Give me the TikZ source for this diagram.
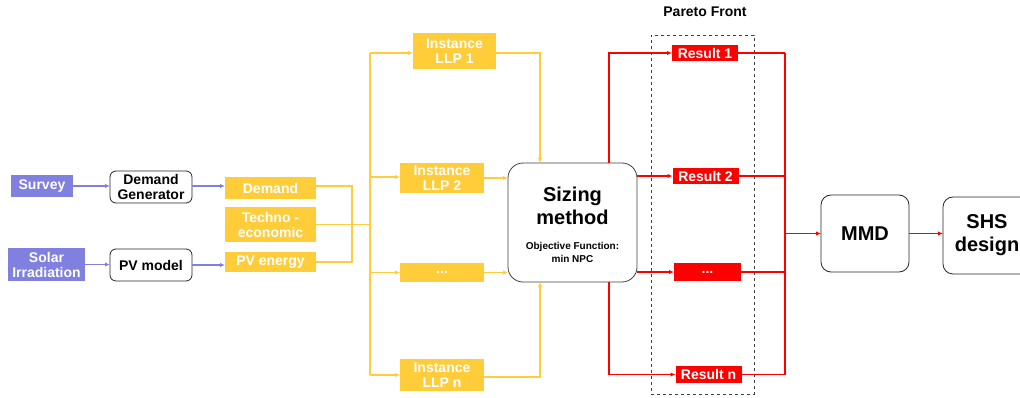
\documentclass[tikz,border=0pt]{standalone}
\usepackage{fontspec}
\setmainfont{Liberation Sans}
\usetikzlibrary{arrows.meta}
\definecolor{lav}{RGB}{128,128,224}
\definecolor{gold}{RGB}{255,204,58}
\definecolor{rd}{RGB}{255,0,0}
\begin{document}
\begin{tikzpicture}[x=1pt,y=-1pt,
  every node/.style={font=\bfseries\fontsize{14}{15}\selectfont, align=center, inner sep=0pt, outer sep=0pt},
  goldbox/.style={fill=gold, text=white},
  redbox/.style={fill=rd, text=white},
  plainbox/.style={draw=black!85, line width=0.8pt, rounded corners=6pt, fill=white},
  bigbox/.style={draw=black!75, line width=0.8pt, rounded corners=15pt, fill=white},
  tip/.style={-{Latex[length=5pt,width=4.5pt]}},
  pline/.style={draw=lav, line width=1.2pt},
  yline/.style={draw=gold, line width=1.4pt},
  rline/.style={draw=rd, line width=1.5pt}]
\clip (0,0) rectangle (1020,398);
\useasboundingbox (0,0) rectangle (1020,398);

% Pareto front frame
\node[draw=black!75, dashed, line width=0.7pt, minimum width=103pt, minimum height=359pt] (front) at (702.5,214.5) {};
\node (fronttitle) at (705,12) {Pareto Front};

% inputs
\node[fill=lav, text=white, minimum width=62pt, minimum height=22pt] (survey) at (42,186) {Survey};
\node[fill=lav, text=white, minimum width=77pt, minimum height=33pt] (solar) at (46.5,264.5) {Solar\\Irradiation};
\node[plainbox, minimum width=82pt, minimum height=32pt] (demgen) at (151,187) {Demand\\Generator};
\node[plainbox, minimum width=82pt, minimum height=32pt] (pvmodel) at (151,265) {PV model};

\node[goldbox, minimum width=91pt, minimum height=22pt] (demand) at (270.5,188) {Demand};
\node[goldbox, minimum width=91pt, minimum height=35pt] (techno) at (270.5,224.5) {Techno -\\economic};
\node[goldbox, minimum width=91pt, minimum height=20pt] (pvenergy) at (270.5,262) {PV energy};

% instances
\node[goldbox, minimum width=83pt, minimum height=36pt] (llp1) at (454.5,51) {Instance\\LLP 1};
\node[goldbox, minimum width=84pt, minimum height=30pt] (llp2) at (442,178) {Instance\\LLP 2};
\node[goldbox, minimum width=84pt, minimum height=19pt] (llpdots) at (442,272.5) {...};
\node[goldbox, minimum width=84pt, minimum height=32pt] (llpn) at (442,375) {Instance\\LLP n};

% optimiser
\node[bigbox, minimum width=129pt, minimum height=119pt] (sizing) at (572.5,222.5) {};
\node[font=\bfseries\fontsize{20}{23}\selectfont] (sizingtitle) at (572.5,206) {Sizing\\method};
\node[font=\bfseries\fontsize{10}{13}\selectfont] (objective) at (572.5,252) {Objective Function:\\min NPC};

% results
\node[redbox, minimum width=66pt, minimum height=16pt] (res1) at (705,53) {Result 1};
\node[redbox, minimum width=66pt, minimum height=16pt] (res2) at (705.5,176) {Result 2};
\node[redbox, minimum width=67pt, minimum height=18pt] (resdots) at (707.5,272) {...};
\node[redbox, minimum width=66pt, minimum height=17pt] (resn) at (708.5,374.5) {Result n};

\node[plainbox, rounded corners=10pt, minimum width=88pt, minimum height=77pt, font=\bfseries\fontsize{20}{23}\selectfont] (mmd) at (865,233.5) {MMD};
\node[plainbox, rounded corners=10pt, minimum width=88pt, minimum height=77pt, font=\bfseries\fontsize{20}{23}\selectfont] (shs) at (987,235.5) {SHS\\design};

% helper columns
\coordinate (ya) at (352,0);
\coordinate (trunk) at (370,0);
\coordinate (cin) at (540,0);
\coordinate (cout) at (609,0);
\coordinate (collect) at (785,0);
\coordinate (top) at (0,53);

% purple links
\draw[pline, tip] (survey.east) -- (survey.east -| demgen.west);
\draw[pline, tip] (demgen.east |- survey.east) -- (demand.west |- survey.east);
\draw[pline, tip] (solar.east) -- (solar.east -| pvmodel.west);
\draw[pline, tip] (pvmodel.east) -- (pvenergy.west |- pvmodel.east);

% gold links
\draw[yline] ([yshift=2pt]demand.east) -- ([yshift=2pt]demand.east -| ya) |- (pvenergy.east);
\draw[yline] (techno.east) -- (techno.east -| trunk);
\draw[yline] (trunk |- top) -- (trunk |- llpn.east);
\draw[yline, tip] (trunk |- top) -- (top -| llp1.west);
\draw[yline, tip] ([yshift=1pt]trunk |- llp2.east) -- ([yshift=1pt]llp2.west);
\draw[yline, tip] (trunk |- llpdots.east) -- (llpdots.west);
\draw[yline, tip] (trunk |- llpn.east) -- (llpn.west);
\draw[yline, tip] (top -| llp1.east) -| (sizing.north -| cin);
\draw[yline, tip] (llp2.east) -- (llp2.east -| sizing.west);
\draw[yline, tip] (llpdots.east) -- (llpdots.east -| sizing.west);
\draw[yline, tip] ([yshift=-2pt]llpn.east) -| (sizing.south -| cin);

% red links
\draw[rline, tip] (sizing.north -| cout) |- (res1.west);
\draw[rline, tip] (res2.west -| sizing.east) -- (res2.west);
\draw[rline, tip] (resdots.west -| sizing.east) -- (resdots.west);
\draw[rline, tip] (sizing.south -| cout) |- (resn.west);
\draw[rline] (res1.east) -- (res1.east -| collect);
\draw[rline] (res2.east) -- (res2.east -| collect);
\draw[rline] (resdots.east) -- (resdots.east -| collect);
\draw[rline] (resn.east) -- (resn.east -| collect);
\draw[rline] (collect |- res1.east) -- (collect |- resn.east);
\draw[rline, tip] (collect |- mmd.west) -- (mmd.west);
\draw[rline, tip] (mmd.east) -- (mmd.east -| shs.west);
\end{tikzpicture}
\end{document}
